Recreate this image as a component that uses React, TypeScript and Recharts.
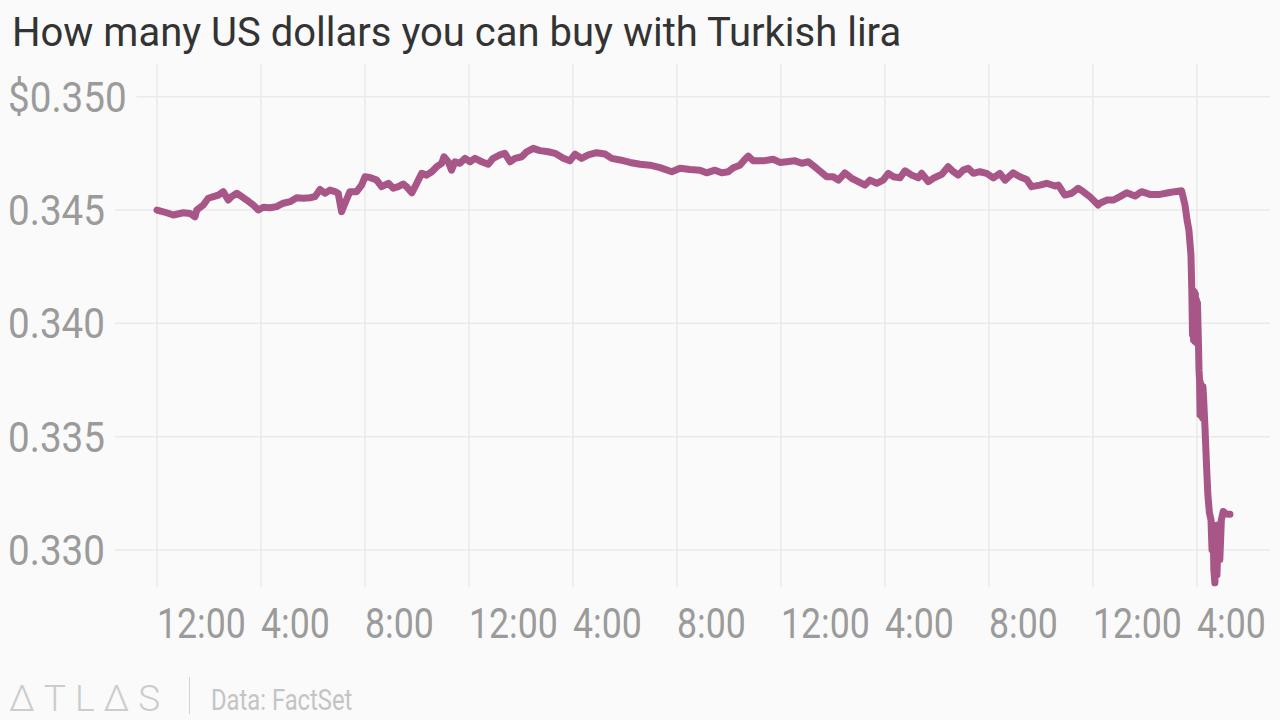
import React from 'react';
import { LineChart, Line, XAxis, YAxis, CartesianGrid } from 'recharts';

// hours since the first tick (12:00)
const hours = [
  0, 0.37, 0.63, 1.01, 1.27, 1.46, 1.53, 1.78, 1.97, 2.17, 2.36, 2.55, 2.74, 2.87, 3.07, 3.26, 3.45, 3.7, 3.9,
  4.09, 4.35, 4.6, 4.86, 5.12, 5.37, 5.63, 5.88, 6.08, 6.27, 6.46, 6.65, 6.85, 6.97, 7.1, 7.23, 7.42, 7.68, 7.87,
  8.0, 8.19, 8.45, 8.64, 8.9, 9.09, 9.28, 9.47, 9.6, 9.8, 9.99, 10.18, 10.37, 10.57, 10.76, 10.95, 11.04, 11.2,
  11.33, 11.46, 11.65, 11.85, 12.04, 12.23, 12.49, 12.74, 12.93, 13.19, 13.38, 13.58, 13.77, 14.03, 14.22, 14.47,
  14.73, 15.05, 15.31, 15.63, 15.88, 16.08, 16.33, 16.59, 16.91, 17.23, 17.49, 17.81, 18.19, 18.58, 18.96, 19.35,
  19.8, 20.12, 20.5, 20.88, 21.14, 21.46, 21.72, 21.97, 22.17, 22.42, 22.62, 22.74, 22.93, 23.32, 23.7, 23.96,
  24.22, 24.54, 24.8, 25.05, 25.37, 25.76, 26.01, 26.21, 26.46, 26.72, 26.97, 27.23, 27.42, 27.68, 27.93, 28.13,
  28.32, 28.58, 28.77, 29.03, 29.28, 29.41, 29.67, 29.86, 30.18, 30.43, 30.63, 30.82, 31.01, 31.2, 31.4, 31.65,
  31.91, 32.17, 32.42, 32.62, 32.93, 33.19, 33.45, 33.64, 33.96, 34.22, 34.54, 34.67, 34.92, 35.18, 35.43, 35.63,
  35.88, 36.2, 36.27, 36.53, 36.78, 37.04, 37.3, 37.62, 37.87, 38.19, 38.58, 38.9, 39.15, 39.41, 39.54, 39.62,
  39.69, 39.77, 39.8, 39.83, 39.85, 39.87, 39.9, 39.92, 39.94, 39.96, 39.98, 40.0, 40.02, 40.06, 40.08, 40.1,
  40.12, 40.13, 40.15, 40.17, 40.19, 40.21, 40.23, 40.25, 40.31, 40.37,
  40.42, 40.48, 40.54, 40.58, 40.62, 40.65, 40.69, 40.73, 40.77, 40.83, 40.88, 40.94, 41.01, 41.12, 41.27,
];

// US dollars per Turkish lira
const rates = [
  0.345, 0.34488, 0.34478, 0.34488, 0.34485, 0.3447, 0.345, 0.34522, 0.34552, 0.34559, 0.34566, 0.34581, 0.34544,
  0.34559, 0.34574, 0.34559, 0.34544, 0.34522, 0.345, 0.34512, 0.3451, 0.34515, 0.3453, 0.34537, 0.34554, 0.34552,
  0.34554, 0.34559, 0.34591, 0.34574, 0.34588, 0.34581, 0.34574, 0.34493, 0.3453, 0.34581, 0.34581, 0.3461,
  0.34647, 0.34644, 0.34632, 0.34603, 0.34618, 0.34596, 0.34603, 0.34615, 0.34603, 0.34576, 0.34618, 0.34662,
  0.34654, 0.34669, 0.34691, 0.34706, 0.34735, 0.34713, 0.34676, 0.34713, 0.34706, 0.34728, 0.34713, 0.34728,
  0.34713, 0.34702, 0.34728, 0.34743, 0.3475, 0.34713, 0.34728, 0.34735, 0.34757, 0.34772, 0.34762, 0.34757,
  0.3475, 0.34728, 0.34717, 0.34747, 0.34728, 0.34743, 0.34753, 0.34747, 0.34728, 0.34721, 0.3471, 0.34702,
  0.34698, 0.34687, 0.34669, 0.34684, 0.34679, 0.34676, 0.34664, 0.34676, 0.34664, 0.34669, 0.34687, 0.34698,
  0.34724, 0.34738, 0.34717, 0.34717, 0.34724, 0.3471, 0.34713, 0.34717, 0.34706, 0.34713, 0.34684, 0.34647,
  0.34647, 0.34632, 0.34664, 0.3464, 0.34625, 0.3461, 0.34632, 0.34618, 0.34632, 0.34662, 0.34647, 0.34642,
  0.34673, 0.34654, 0.34642, 0.34662, 0.34625, 0.3464, 0.34657, 0.34691, 0.34669, 0.34654, 0.34676, 0.34684,
  0.34662, 0.34669, 0.34662, 0.34642, 0.34662, 0.34632, 0.34664, 0.34647, 0.34635, 0.34603, 0.3461, 0.34618,
  0.34606, 0.3461, 0.34566, 0.34574, 0.34596, 0.34581, 0.34559, 0.34522, 0.3453, 0.34544, 0.34544, 0.34559,
  0.34576, 0.34562, 0.34581, 0.34569, 0.34569, 0.34576, 0.34581, 0.34585, 0.34522, 0.34456, 0.34412, 0.34302,
  0.34156, 0.3395, 0.34145, 0.33927, 0.34138, 0.3392, 0.3413, 0.33918, 0.34103, 0.33912, 0.3409, 0.33905, 0.3379,
  0.3375, 0.33596, 0.3374, 0.33596, 0.33728, 0.3359, 0.33583, 0.3372, 0.33684,
  0.33539, 0.33368, 0.33243, 0.33164, 0.33133, 0.33001, 0.33111, 0.32912, 0.32855, 0.33089, 0.3289, 0.33111,
  0.32957, 0.33133, 0.3317, 0.33159, 0.33158,
];

const xTicks = [0, 4, 8, 12, 16, 20, 24, 28, 32, 36, 40];
const xTickLabels = ['12:00', '4:00', '8:00', '12:00', '4:00', '8:00', '12:00', '4:00', '8:00', '12:00', '4:00'];
const yTicks = [0.33, 0.335, 0.34, 0.345, 0.35];
const yTickLabels = ['0.330', '0.335', '0.340', '0.345', '$0.350'];

const data = hours.map((h, i) => ({ h, v: rates[i] }));

const BG = '#fafafa';
const TICK_COLOR = '#9b9b9b';
const FONT = "Roboto, sans-serif";

const XTick = (props: any) => {
  const { x, y, payload } = props;
  const i = xTicks.indexOf(payload.value);
  return (
    <g transform={`translate(${x}, ${y + 51}) scale(0.85, 1)`}>
      <text x={0} y={0} textAnchor="start" fill={TICK_COLOR} fontSize={42} fontFamily={FONT}>
        {xTickLabels[i]}
      </text>
    </g>
  );
};

const YTick = (props: any) => {
  const { y, payload } = props;
  const i = yTicks.findIndex((t) => Math.abs(t - payload.value) < 1e-9);
  return (
    <g transform={`translate(8, ${y + 15}) scale(0.92, 1)`}>
      <text
        x={0}
        y={0}
        textAnchor="start"
        fill={TICK_COLOR}
        stroke={BG}
        strokeWidth={26}
        strokeLinejoin="round"
        paintOrder="stroke"
        fontSize={42}
        fontFamily={FONT}
      >
        {yTickLabels[i]}
      </text>
    </g>
  );
};

export default function App() {
  return (
    <div style={{ position: 'absolute', left: 0, top: 0, width: 1280, height: 720, background: BG, overflow: 'hidden' }}>
      <div
        style={{
          position: 'absolute',
          left: 12,
          top: 13,
          fontFamily: FONT,
          fontSize: 40,
          lineHeight: '40px',
          color: '#333333',
          whiteSpace: 'nowrap',
        }}
      >
        How many US dollars you can buy with Turkish lira
      </div>
      <div style={{ position: 'absolute', left: 0, top: 0 }}>
        <LineChart width={1280} height={720} data={data} margin={{ top: 64, right: 10, bottom: 73, left: 9 }}>
          <CartesianGrid stroke="#eaeaea" strokeWidth={1.5} syncWithTicks />
          <XAxis
            dataKey="h"
            type="number"
            domain={[-5.654, 42.81]}
            ticks={xTicks}
            tick={<XTick />}
            tickLine={false}
            axisLine={false}
            tickSize={0}
            tickMargin={0}
            height={60}
            interval={0}
            allowDataOverflow
          />
          <YAxis
            type="number"
            domain={[0.328367, 0.351443]}
            ticks={yTicks}
            tick={<YTick />}
            tickLine={false}
            axisLine={false}
            width={1}
            interval={0}
            allowDataOverflow
          />
          <Line
            type="linear"
            dataKey="v"
            stroke="#a85687"
            strokeWidth={7}
            strokeLinejoin="round"
            strokeLinecap="round"
            dot={false}
            isAnimationActive={false}
          />
        </LineChart>
      </div>
      <div
        style={{
          position: 'absolute',
          left: 9,
          top: 680,
          fontFamily: FONT,
          fontWeight: 300,
          fontSize: 37,
          lineHeight: '37px',
          letterSpacing: 9,
          color: '#cccccc',
          whiteSpace: 'nowrap',
        }}
      >
        ΔTLΔS
      </div>
      <div style={{ position: 'absolute', left: 189, top: 677, width: 0, height: 37, borderLeft: '1.5px solid #d4d4d4' }} />
      <div
        style={{
          position: 'absolute',
          left: 211,
          top: 686,
          fontFamily: FONT,
          fontSize: 29,
          lineHeight: '29px',
          color: '#c4c4c4',
          whiteSpace: 'nowrap',
          transform: 'scaleX(0.82)',
          transformOrigin: 'left top',
        }}
      >
        Data: FactSet
      </div>
    </div>
  );
}
